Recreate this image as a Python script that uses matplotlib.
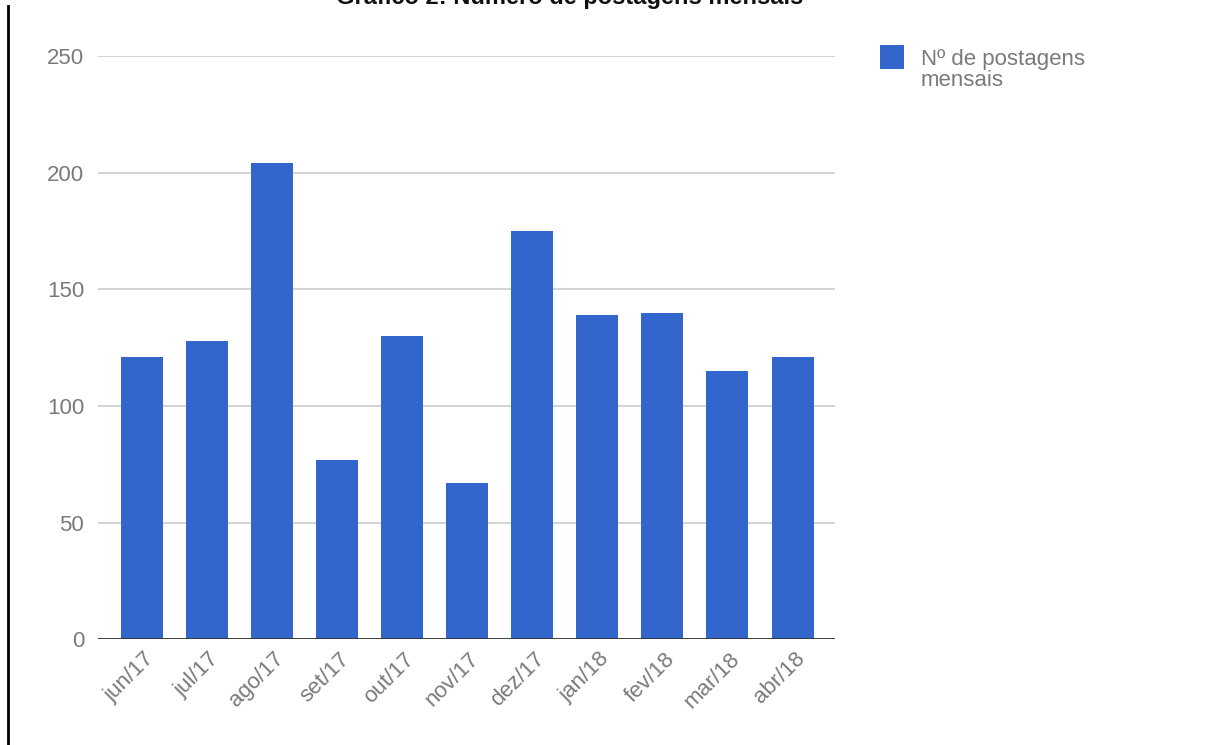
import matplotlib
matplotlib.use('AGG')
import matplotlib.pyplot as plt
import matplotlib.transforms as mtransforms
from matplotlib.lines import Line2D
from matplotlib.patches import Rectangle

# dados do grafico
months = ['jun/17', 'jul/17', 'ago/17', 'set/17', 'out/17', 'nov/17',
          'dez/17', 'jan/18', 'fev/18', 'mar/18', 'abr/18']
posts = [121, 128, 204, 77, 130, 67, 175, 139, 140, 115, 121]
yticks = [0, 50, 100, 150, 200, 250]
series_label = ['Nº de postagens', 'mensais']
title = 'Gráfico 2: Número de postagens mensais'

W, H = 1210, 745
bar_color = '#3366cc'
text_gray = '#7a7a7a'

plt.rcParams['font.family'] = ['Liberation Sans', 'DejaVu Sans']

fig = plt.figure(figsize=(W / 100, H / 100), dpi=100)
ax = fig.add_axes([0.081, 0.142, 0.609, 0.783])

x = list(range(len(months)))
ax.bar(x, posts, width=0.645, color=bar_color, zorder=3)

ax.set_xlim(-0.67, len(months) - 1 + 0.65)
ax.set_ylim(0, 250)
ax.set_yticks(yticks)
ax.set_yticklabels([str(v) for v in yticks])
ax.grid(axis='y', color='#cccccc', linewidth=1.2, zorder=0)
ax.axhline(0, color='#333333', linewidth=2, zorder=4)

ax.set_xticks(x)
ax.set_xticklabels(months, rotation=45, ha='right', va='center',
                   rotation_mode='anchor')
ax.tick_params(axis='both', length=0, labelsize=16, colors=text_gray)
ax.tick_params(axis='y', pad=10)
ax.tick_params(axis='x', pad=12)

# desloca os rotulos do eixo x um pouco para a direita
offset = mtransforms.ScaledTranslation(9 / 100, 0, fig.dpi_scale_trans)
for lbl in ax.get_xticklabels():
    lbl.set_transform(lbl.get_transform() + offset)

for s in ax.spines.values():
    s.set_visible(False)

# legenda (desenhada a mao para alinhar o quadrado com a 1a linha)
fig.add_artist(Rectangle((880 / W, 1 - 69 / H), 24 / W, 24 / H,
                         transform=fig.transFigure, facecolor=bar_color,
                         edgecolor='none'))
fig.text(921 / W, 1 - 65 / H, series_label[0], ha='left', va='baseline',
         fontsize=16, color=text_gray)
fig.text(921 / W, 1 - 86 / H, series_label[1], ha='left', va='baseline',
         fontsize=16, color=text_gray)

# titulo cortado no topo
fig.text(0.471, 0.9946, title, ha='center', va='baseline',
         fontsize=17, fontweight='bold', color='#111111')

# linha vertical da esquerda
fig.add_artist(Line2D([8 / W, 8 / W], [0, 1 - 6 / H],
                      transform=fig.transFigure, color='black', linewidth=2))

plt.savefig('out.png', dpi=100)
